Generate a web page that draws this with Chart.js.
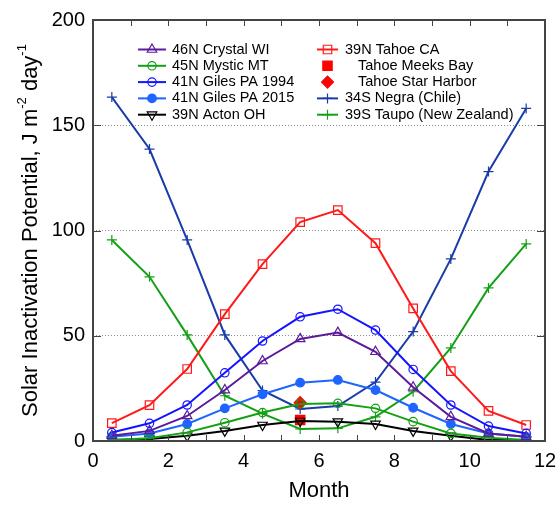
<!DOCTYPE html>
<html><head><meta charset="utf-8">
<script src="https://cdn.jsdelivr.net/npm/chart.js@4.4.1/dist/chart.umd.min.js"></script>
<style>html,body{margin:0;padding:0;background:#fff}#wrap{width:560px;height:505px;position:relative}</style>
</head><body><div id="wrap"><canvas id="c" width="560" height="505"></canvas></div>
<script>
const months = [0.5,1.5,2.5,3.5,4.5,5.5,6.5,7.5,8.5,9.5,10.5,11.5];
const crystalWI   = [2.5,4.8,11.9,24.2,38,48.5,51.5,42.4,25.5,11.5,3.6,2];
const mysticMT    = [0.5,1.3,4.1,8.7,13.5,17.6,17.9,15.5,9.2,3.6,1.6,0.5];
const giles1994   = [4,8.4,17.1,32.4,47.5,59,62.6,52.7,34,17.1,7.1,3.6];
const giles2015   = [2,3.6,8.1,15.5,22.2,27.7,29,24.2,15.8,8.1,3.6,2];
const actonOH     = [0.5,1,2.5,4.8,7.6,9.5,9.2,8.1,4.8,2.5,0.5,0.5];
const tahoeCA     = [8.5,17,34.2,60.3,84,104,109.7,94,63,33.2,14.3,7.6];
const meeksMonth  = [5.5];
const meeksBay    = [10];
const starMonth   = [5.5];
const starHarbor  = [18.2];
const negraChile  = [163.4,138.7,95.5,50.4,24,15.2,16.6,28,52,86.5,128,158];
const taupoNZ     = [95.5,78,50.4,21.5,13,5.7,6,11.5,23.4,44.2,72.7,93.6];
const xTicks = [0,2,4,6,8,10,12];
const yTicks = [0,50,100,150,200];

const pts = (xs, ys) => ys.map((v, i) => ({x: xs[i], y: v}));
const FONT = '"Liberation Sans", Arial, Helvetica, sans-serif';

function ds(label, xs, ys, color, style, radius, filled, extra) {
  return Object.assign({
    label, data: pts(xs, ys), borderColor: color,
    backgroundColor: filled ? color : 'rgba(0,0,0,0)',
    pointBorderColor: color, pointBackgroundColor: filled ? color : 'rgba(0,0,0,0)',
    pointStyle: style, pointRadius: radius, pointHoverRadius: radius,
    pointBorderWidth: 1.2, borderWidth: 2, tension: 0, showLine: true
  }, extra || {});
}

const datasets = [
  ds('46N Crystal WI', months, crystalWI, '#5c1a9c', 'triangle', 5.5, false),
  ds('45N Mystic MT', months, mysticMT, '#14a014', 'circle', 4.2, false),
  ds('41N Giles PA 1994', months, giles1994, '#1414ff', 'circle', 4.2, false),
  ds('41N Giles PA 2015', months, giles2015, '#1e64ff', 'circle', 4.3, true),
  ds('39N Acton OH', months, actonOH, '#000000', 'triangle', 5.5, false, {pointRotation: 180}),
  ds('39N Tahoe CA', months, tahoeCA, '#ff1a1a', 'rect', 6, false),
  ds('Tahoe Meeks Bay', meeksMonth, meeksBay, '#ff0000', 'rect', 6.6, true, {showLine: false}),
  ds('Tahoe Star Harbor', starMonth, starHarbor, '#ff0000', 'rectRot', 6, true, {showLine: false}),
  ds('34S Negra (Chile)', months, negraChile, '#1a3ca6', 'cross', 5, false),
  ds('39S Taupo (New Zealand)', months, taupoNZ, '#14a014', 'cross', 5, false)
];

const framePlugin = {
  id: 'frame',
  afterDraw(chart) {
    const {ctx, chartArea: a, scales: {x, y}} = chart;
    ctx.save();
    ctx.strokeStyle = '#444';
    ctx.lineWidth = 1;
    ctx.beginPath();
    for (let m = 1; m < 12; m++) {
      const px = Math.round(x.getPixelForValue(m)) + 0.5;
      ctx.moveTo(px, a.bottom); ctx.lineTo(px, a.bottom - 6);
      ctx.moveTo(px, a.top); ctx.lineTo(px, a.top + 6);
    }
    yTicks.forEach(v => {
      if (v === 0 || v === 200) return;
      const py = Math.round(y.getPixelForValue(v)) + 0.5;
      ctx.moveTo(a.left, py); ctx.lineTo(a.left + 8, py);
      ctx.moveTo(a.right, py); ctx.lineTo(a.right - 8, py);
    });
    ctx.stroke();
    ctx.lineWidth = 2;
    ctx.strokeRect(a.left, a.top, a.right - a.left, a.bottom - a.top);

    // legend
    ctx.font = '14.5px ' + FONT;
    ctx.textBaseline = 'middle';
    ctx.textAlign = 'left';
    const cols = [
      {idx: [0,1,2,3,4], x0: 138, x1: 166, tx: 172},
      {idx: [5,6,7,8,9], x0: 317, x1: 338, tx: 345}
    ];
    cols.forEach(c => {
      c.idx.forEach((di, r) => {
        const d = chart.data.datasets[di];
        const yy = 49.5 + r * 16.3;
        const mx = (c.x0 + c.x1) / 2;
        let tx = c.tx;
        if (d.showLine !== false) {
          ctx.strokeStyle = d.borderColor; ctx.lineWidth = 2;
          ctx.beginPath(); ctx.moveTo(c.x0, yy); ctx.lineTo(c.x1, yy); ctx.stroke();
        } else {
          tx = 358;
        }
        ctx.fillStyle = d.pointBackgroundColor;
        ctx.strokeStyle = d.pointBorderColor;
        ctx.lineWidth = d.pointBorderWidth;
        Chart.helpers.drawPoint(ctx, {pointStyle: d.pointStyle, radius: d.pointRadius,
          rotation: d.pointRotation || 0, borderWidth: d.pointBorderWidth}, mx, yy);
        ctx.fillStyle = '#000';
        ctx.fillText(d.label, tx, yy);
      });
    });

    // y axis title with superscripts
    ctx.save();
    ctx.translate(37, (a.top + a.bottom) / 2);
    ctx.rotate(-Math.PI / 2);
    ctx.textBaseline = 'alphabetic';
    const big = '22px ' + FONT, small = '13px ' + FONT;
    const parts = [
      ['Solar Inactivation Potential, J m', big, 0],
      ['-2', small, -11],
      [' day', big, 0],
      ['-1', small, -11]
    ];
    let total = 0;
    parts.forEach(p => { ctx.font = p[1]; p.w = ctx.measureText(p[0]).width; total += p.w; });
    let cx = -total / 2;
    ctx.fillStyle = '#000';
    parts.forEach(p => { ctx.font = p[1]; ctx.fillText(p[0], cx, p[2]); cx += p.w; });
    ctx.restore();
    ctx.restore();
  }
};

new Chart(document.getElementById('c'), {
  type: 'line',
  data: {datasets},
  options: {
    responsive: false,
    devicePixelRatio: 1,
    animation: false,
    events: [],
    layout: {padding: {left: 0, right: 15, top: 20, bottom: 0}},
    plugins: {legend: {display: false}, tooltip: {enabled: false}},
    scales: {
      x: {
        type: 'linear', min: 0, max: 12,
        afterBuildTicks: s => { s.ticks = xTicks.map(v => ({value: v})); },
        afterFit: s => { s.height = 64; s.paddingLeft = 0; s.paddingRight = 0; },
        grid: {display: false, drawTicks: false},
        border: {display: false},
        ticks: {color: '#000', font: {size: 20, family: FONT}, padding: 8, maxRotation: 0},
        title: {display: true, text: 'Month', color: '#000', font: {size: 22, family: FONT}, padding: {top: 0, bottom: 1}}
      },
      y: {
        type: 'linear', min: 0, max: 200,
        afterBuildTicks: s => { s.ticks = yTicks.map(v => ({value: v})); },
        afterFit: s => { s.width = 93; s.paddingTop = 0; s.paddingBottom = 0; },
        grid: {drawTicks: false, lineWidth: 1,
          color: c => (c.tick && (c.tick.value === 0 || c.tick.value === 200)) ? 'rgba(0,0,0,0)' : '#8a8a8a'},
        border: {display: false, dash: [1, 2]},
        ticks: {color: '#000', font: {size: 20, family: FONT}, padding: 8}
      }
    }
  },
  plugins: [framePlugin]
});
</script></body></html>
